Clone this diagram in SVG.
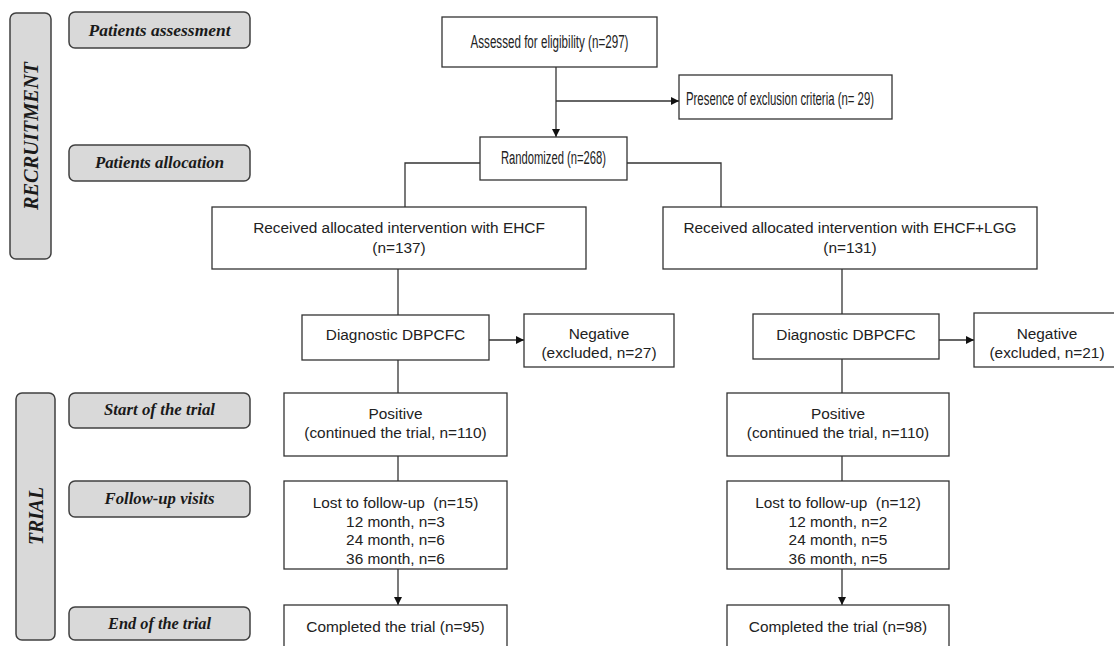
<svg xmlns="http://www.w3.org/2000/svg" width="1114" height="646" viewBox="0 0 1114 646">
<defs>
<style>
.bar{fill:#d9d9d9;stroke:#404040;stroke-width:1.5}
.lab{fill:#d9d9d9;stroke:#404040;stroke-width:1.5}
.lt{font-family:"Liberation Serif",serif;font-weight:bold;font-style:italic;font-size:16px;fill:#1a1a1a;text-anchor:middle}
.vt{font-family:"Liberation Serif",serif;font-weight:bold;font-style:italic;font-size:22px;fill:#1a1a1a;text-anchor:middle}
.box{fill:#ffffff;stroke:#333333;stroke-width:1.3}
.t{font-family:"Liberation Sans",Arial,sans-serif;font-size:15.4px;fill:#222222;text-anchor:middle}
.tn{font-family:"Liberation Sans",Arial,sans-serif;font-size:18px;fill:#222222;text-anchor:middle}
.c{fill:none;stroke:#333333;stroke-width:1.3}
</style>
<marker id="ah" viewBox="0 0 10 10" refX="10" refY="5" markerWidth="8" markerHeight="8" markerUnits="userSpaceOnUse" orient="auto">
<path d="M0,0 L10,5 L0,10 z" fill="#111111"/>
</marker>
</defs>
<rect width="1114" height="646" fill="#ffffff"/>

<g id="recruitment">
<rect class="bar" x="10" y="13" width="41" height="246" rx="6"/>
<text class="vt" transform="translate(38,136) rotate(-90)" textLength="148" lengthAdjust="spacingAndGlyphs">RECRUITMENT</text>
</g>
<g id="trial">
<rect class="bar" x="16" y="393" width="39" height="247" rx="6"/>
<text class="vt" transform="translate(43,516) rotate(-90)" textLength="58" lengthAdjust="spacingAndGlyphs">TRIAL</text>
</g>
<g id="lab-assessment">
<rect class="lab" x="69" y="12" width="181" height="36" rx="6"/>
<text class="lt" x="159.5" y="36" textLength="142" lengthAdjust="spacingAndGlyphs">Patients assessment</text>
</g>
<g id="lab-allocation">
<rect class="lab" x="69" y="145" width="181" height="36" rx="6"/>
<text class="lt" x="159.5" y="168" textLength="129" lengthAdjust="spacingAndGlyphs">Patients allocation</text>
</g>
<g id="lab-start">
<rect class="lab" x="69" y="393" width="181" height="35" rx="6"/>
<text class="lt" x="159.5" y="415" textLength="111" lengthAdjust="spacingAndGlyphs">Start of the trial</text>
</g>
<g id="lab-followup">
<rect class="lab" x="69" y="481" width="181" height="36" rx="6"/>
<text class="lt" x="159.5" y="504" textLength="110" lengthAdjust="spacingAndGlyphs">Follow-up visits</text>
</g>
<g id="lab-end">
<rect class="lab" x="69" y="607" width="181" height="33" rx="6"/>
<text class="lt" x="159.5" y="629" textLength="103" lengthAdjust="spacingAndGlyphs">End of the trial</text>
</g>

<g id="connectors">
<line class="c" x1="556" y1="67" x2="556" y2="137" marker-end="url(#ah)"/>
<line class="c" x1="556" y1="101" x2="679" y2="101" marker-end="url(#ah)"/>
<polyline class="c" points="480,163 405,163 405,207"/>
<polyline class="c" points="627,163 721,163 721,207"/>
<line class="c" x1="398" y1="269" x2="398" y2="315"/>
<line class="c" x1="842" y1="269" x2="842" y2="314"/>
<line class="c" x1="489" y1="340" x2="524" y2="340" marker-end="url(#ah)"/>
<line class="c" x1="939" y1="340" x2="974" y2="340" marker-end="url(#ah)"/>
<line class="c" x1="398" y1="360" x2="398" y2="393"/>
<line class="c" x1="842" y1="359" x2="842" y2="393"/>
<line class="c" x1="398" y1="456" x2="398" y2="481"/>
<line class="c" x1="842" y1="456" x2="842" y2="481"/>
<line class="c" x1="398" y1="569" x2="398" y2="605" marker-end="url(#ah)"/>
<line class="c" x1="842" y1="569" x2="842" y2="605" marker-end="url(#ah)"/>
</g>

<g id="assessed">
<rect class="box" x="442" y="17" width="215" height="50"/>
<text class="tn" x="549.5" y="48" textLength="158" lengthAdjust="spacingAndGlyphs">Assessed for eligibility (n=297)</text>
</g>
<g id="exclusion">
<rect class="box" x="679" y="75" width="213" height="44"/>
<text class="tn" x="780" y="105" textLength="188" lengthAdjust="spacingAndGlyphs">Presence of exclusion criteria (n= 29)</text>
</g>
<g id="randomized">
<rect class="box" x="480" y="137" width="147" height="43"/>
<text class="tn" x="553.5" y="164" textLength="105" lengthAdjust="spacingAndGlyphs">Randomized (n=268)</text>
</g>
<g id="ehcf">
<rect class="box" x="212" y="207" width="374" height="62"/>
<text class="t" x="399" y="233">Received allocated intervention with EHCF</text>
<text class="t" x="399" y="253">(n=137)</text>
</g>
<g id="ehcf-lgg">
<rect class="box" x="663" y="207" width="374" height="62"/>
<text class="t" x="850" y="233">Received allocated intervention with EHCF+LGG</text>
<text class="t" x="850" y="253">(n=131)</text>
</g>
<g id="diag-left">
<rect class="box" x="302" y="315" width="187" height="45"/>
<text class="t" x="395.5" y="340">Diagnostic DBPCFC</text>
</g>
<g id="neg-left">
<rect class="box" x="524" y="314" width="150" height="53"/>
<text class="t" x="599" y="339">Negative</text>
<text class="t" x="599" y="358">(excluded, n=27)</text>
</g>
<g id="diag-right">
<rect class="box" x="753" y="314" width="186" height="45"/>
<text class="t" x="846" y="340">Diagnostic DBPCFC</text>
</g>
<g id="neg-right">
<rect class="box" x="974" y="313" width="146" height="54"/>
<text class="t" x="1047" y="339">Negative</text>
<text class="t" x="1047" y="358">(excluded, n=21)</text>
</g>
<g id="pos-left">
<rect class="box" x="284" y="393" width="223" height="63"/>
<text class="t" x="395.5" y="419">Positive</text>
<text class="t" x="395.5" y="438">(continued the trial,  n=110)</text>
</g>
<g id="pos-right">
<rect class="box" x="727" y="393" width="222" height="63"/>
<text class="t" x="838" y="419">Positive</text>
<text class="t" x="838" y="438">(continued the trial,  n=110)</text>
</g>
<g id="lost-left">
<rect class="box" x="284" y="481" width="223" height="88"/>
<text class="t" x="395.5" y="508" xml:space="preserve">Lost to follow-up  (n=15)</text>
<text class="t" x="395.5" y="527">12 month, n=3</text>
<text class="t" x="395.5" y="545">24 month, n=6</text>
<text class="t" x="395.5" y="564">36 month, n=6</text>
</g>
<g id="lost-right">
<rect class="box" x="727" y="481" width="222" height="88"/>
<text class="t" x="838" y="508" xml:space="preserve">Lost to follow-up  (n=12)</text>
<text class="t" x="838" y="527">12 month, n=2</text>
<text class="t" x="838" y="545">24 month, n=5</text>
<text class="t" x="838" y="564">36 month, n=5</text>
</g>
<g id="completed-left">
<rect class="box" x="284" y="605" width="223" height="60"/>
<text class="t" x="395.5" y="632">Completed the trial (n=95)</text>
</g>
<g id="completed-right">
<rect class="box" x="727" y="605" width="222" height="60"/>
<text class="t" x="838" y="632">Completed the trial (n=98)</text>
</g>
</svg>
